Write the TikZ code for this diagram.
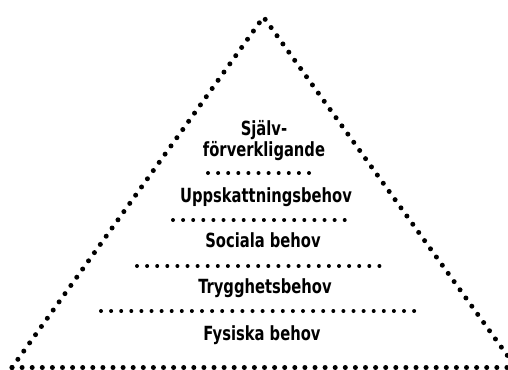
\documentclass[tikz,border=0pt]{standalone}
\usepackage{fontspec}
\setmainfont{DejaVu Sans Condensed}[BoldFont={DejaVu Sans Condensed Bold}, BoldFeatures={FakeStretch=0.84}]
\usepackage{tikz}
\usetikzlibrary{positioning}

\tikzset{
    outer/.style={line width=5pt, line cap=round, dash pattern=on 0pt off 10.1pt},
    inner/.style={line width=4pt, line cap=round, dash pattern=on 0pt off 10.1pt},
    level/.style={font=\bfseries\fontsize{19.5}{21}\selectfont, align=center, inner sep=0pt}
}

\begin{document}
\begin{tikzpicture}[x=1pt, y=-1pt]
    \clip (0,0) rectangle (508,369);
    \draw[outer] (12,367.5) -- (263.5,17) -- (516,367.5);
    \draw[outer] (12,367.5) -- (516,367.5);
    \node[level] (sjalv) at (264,141) {Själv-\\förverkligande};
    \draw[inner] (208,173) -- (310,173);
    \node[level] (uppsk) at (266,197) {Uppskattningsbehov};
    \draw[inner] (173,220) -- (345,220);
    \node[level] (soc) at (263,240) {Sociala behov};
    \draw[inner] (137,266) -- (388,266);
    \node[level] (trygg) at (265,288) {Trygghetsbehov};
    \draw[inner] (101,311) -- (424,311);
    \node[level] (fys) at (262,335) {Fysiska behov};
\end{tikzpicture}
\end{document}
